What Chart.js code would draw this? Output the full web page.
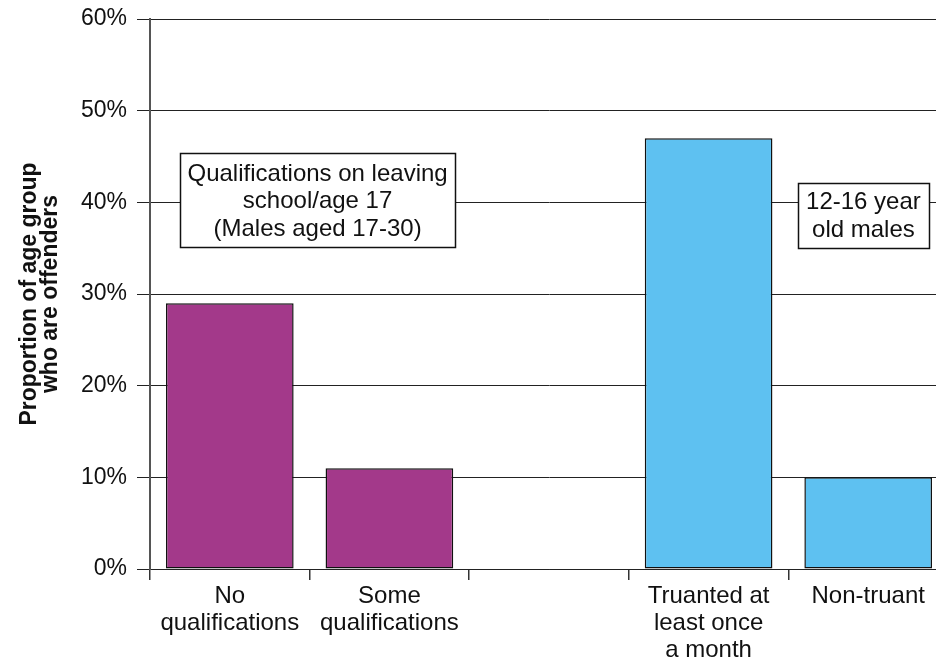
<!DOCTYPE html>
<html>
<head>
<meta charset="utf-8">
<script src="https://cdn.jsdelivr.net/npm/chart.js@4"></script>
<style>
  html, body { margin: 0; padding: 0; background: #fff; overflow: hidden; width: 936px; height: 661px; }
  #wrap { position: absolute; left: 0; top: 0; width: 948px; height: 661px; }
</style>
</head>
<body>
<div id="wrap"><canvas id="c" width="948" height="661"></canvas></div>
<script>
const categories = [
  ["No", "qualifications"],
  ["Some", "qualifications"],
  "",
  ["Truanted at", "least once", "a month"],
  "Non-truant"
];
const values = [29, 11, null, 47, 10];
const barColors = ["#A3398A", "#A3398A", "#A3398A", "#5EC1F1", "#5EC1F1"];
const yTitle = ["Proportion of age group", "who are offenders"];
const annotations = [
  { lines: ["Qualifications on leaving", "school/age 17", "(Males aged 17-30)"], xIndex: 0.55, yValue: 40.2, w: 275, h: 94 },
  { lines: ["12-16 year", "old males"], xIndex: 3.97, yValue: 38.6, w: 131, h: 65 }
];

const FONT = "'Liberation Sans', Arial, Helvetica, sans-serif";

const boxPlugin = {
  id: 'boxes',
  afterDatasetsDraw(chart) {
    const ctx = chart.ctx;
    const xs = chart.scales.x, ys = chart.scales.y;
    ctx.save();
    annotations.forEach(a => {
      const cx = xs.getPixelForValue(a.xIndex);
      const cy = ys.getPixelForValue(a.yValue);
      const x0 = Math.round(cx - a.w / 2) + 0.5, y0 = Math.round(cy - a.h / 2) + 0.5;
      ctx.fillStyle = '#fff';
      ctx.fillRect(x0, y0, a.w, a.h);
      ctx.strokeStyle = '#111';
      ctx.lineWidth = 1.5;
      ctx.strokeRect(x0, y0, a.w, a.h);
      ctx.fillStyle = '#111';
      ctx.font = '24px ' + FONT;
      ctx.textAlign = 'center';
      ctx.textBaseline = 'middle';
      const lh = 27.5;
      const start = cy - (a.lines.length - 1) * lh / 2 + 1;
      a.lines.forEach((t, i) => ctx.fillText(t, cx, start + i * lh));
    });
    ctx.restore();
  }
};

new Chart(document.getElementById('c'), {
  type: 'bar',
  data: {
    labels: categories,
    datasets: [{
      data: values,
      backgroundColor: barColors,
      borderColor: '#111',
      borderWidth: 1.5,
      borderSkipped: false,
      barPercentage: 0.8,
      categoryPercentage: 1.0
    }]
  },
  options: {
    responsive: false,
    animation: false,
    layout: { padding: { top: 19, right: 0, left: 0, bottom: 0 } },
    plugins: { legend: { display: false }, tooltip: { enabled: false } },
    scales: {
      x: {
        grid: { offset: true, drawOnChartArea: false, tickLength: 11, color: '#333', lineWidth: 1.5 },
        border: { color: '#222', width: 1 },
        ticks: { color: '#111', padding: 3, maxRotation: 0, autoSkip: false, font: { family: FONT, size: 24, lineHeight: 1.13 } },
        afterFit(scale) { scale.height = 92; scale.paddingLeft = 0; scale.paddingRight = 0; }
      },
      y: {
        min: 0, max: 60,
        ticks: { stepSize: 10, color: '#111', padding: 10, callback: v => v + '%', font: { family: FONT, size: 23 } },
        grid: { color: '#222', lineWidth: 1, tickLength: 13 },
        border: { color: '#555', width: 2 },
        title: { display: true, text: yTitle, color: '#111', padding: { top: 20, bottom: 0 }, font: { family: FONT, size: 23, weight: 'bold', lineHeight: 0.88 } },
        afterFit(scale) { scale.width = 150; scale.paddingTop = 0; scale.paddingBottom = 0; }
      }
    }
  },
  plugins: [boxPlugin]
});
</script>
</body>
</html>
